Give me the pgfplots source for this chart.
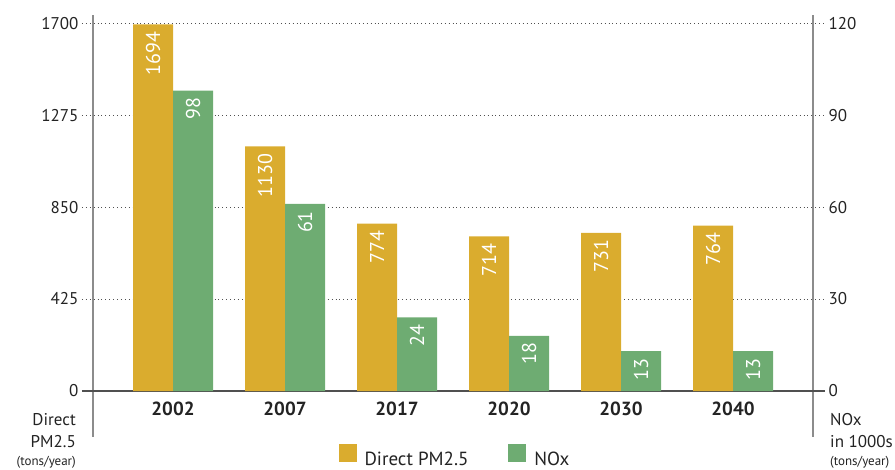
\documentclass[border=0pt]{standalone}
\usepackage{pgfplots}
\pgfplotsset{compat=1.18}
\usepackage{fontspec}
\setmainfont{PT Sans}
\definecolor{pmgold}{RGB}{218,172,46}
\definecolor{noxgreen}{RGB}{110,172,114}
\definecolor{axgray}{RGB}{140,140,140}
\definecolor{txt}{RGB}{35,35,35}
\definecolor{gridc}{RGB}{80,80,80}
\begin{document}
\begin{tikzpicture}
\useasboundingbox (-82pt,-33pt) rectangle (813pt,437pt);
\pgfplotsset{
  base/.style={
    at={(0pt,0pt)}, anchor=south west, scale only axis,
    width=743pt, height=422pt,
    xmin=-0.8125, xmax=5.8214,
    axis line style={draw=none},
    tick style={draw=none},
    /pgf/number format/assume math mode=true,
    /pgf/number format/1000 sep={},
    ybar, bar width=40pt,
    yticklabel style={font=\fontsize{17}{17}\selectfont, text=txt},
    nodes near coords,
    nodes near coords style={rotate=90, anchor=east, text=white, font=\fontsize{20}{20}\selectfont, inner sep=7pt},
  }
}
\begin{axis}[base,
  ymin=-212.5, ymax=1737.5,
  bar shift=-20pt,
  xtick={0,1,2,3,4,5},
  xticklabels={2002,2007,2017,2020,2030,2040},
  xticklabel style={font=\fontsize{19}{19}\selectfont\bfseries, text=txt, yshift=43pt},
  ytick={425,850,1275,1700},
  ymajorgrids,
  major grid style={gridc, line width=0.9pt, dash pattern=on 0.9pt off 3pt},
  extra y ticks={0},
  extra y tick style={grid=major, major grid style={gridc, line width=1.3pt, solid}},
  extra x ticks={-0.7143,5.7143},
  extra x tick labels={},
  extra x tick style={grid=major, major grid style={axgray, line width=2pt, solid}},
]
\addplot[fill=pmgold, draw=none] coordinates {(0,1694) (1,1130) (2,774) (3,714) (4,731) (5,764)};
\end{axis}
\begin{axis}[base,
  ymin=-15, ymax=122.647,
  bar shift=20pt,
  xtick=\empty,
  ytick={0,30,60,90,120},
  yticklabel pos=right,
  legend style={at={(0.502,-0.046)}, anchor=center, draw=none, fill=none,
    legend columns=2, font=\fontsize{19}{19}\selectfont, text=txt,
    /tikz/every even column/.append style={column sep=38pt}},
  legend cell align=left,
  legend image code/.code={\fill[#1, draw=none] (0pt,-3pt) rectangle (18pt,15pt); \path (24pt,0pt);},
]
\addlegendimage{fill=pmgold, draw=none}
\addlegendentry{Direct PM2.5}
\addplot[fill=noxgreen, draw=none] coordinates {(0,98) (1,61) (2,24) (3,18) (4,13) (5,13)};
\addlegendentry{NOx}
\end{axis}
\begin{scope}[every node/.style={text=txt, inner sep=0pt}]
\node[anchor=base east, font=\fontsize{17}{17}\selectfont] at (-6pt,11pt) {Direct};
\node[anchor=base east, font=\fontsize{17}{17}\selectfont] at (-6pt,-11pt) {PM2.5};
\node[anchor=base east, font=\fontsize{13}{13}\selectfont] at (-6pt,-29pt) {(tons/year)};
\node[anchor=base west, font=\fontsize{17}{17}\selectfont] at (748pt,11pt) {NOx};
\node[anchor=base west, font=\fontsize{17}{17}\selectfont] at (748pt,-11pt) {in 1000s};
\node[anchor=base west, font=\fontsize{13}{13}\selectfont] at (748pt,-29pt) {(tons/year)};
\end{scope}
\end{tikzpicture}
\end{document}
